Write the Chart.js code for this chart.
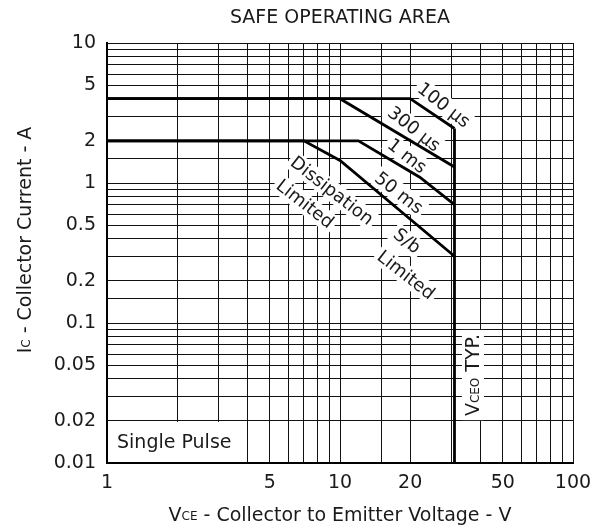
<!DOCTYPE html>
<html>
<head>
<meta charset="utf-8">
<script src="https://cdn.jsdelivr.net/npm/chart.js@4.4.1/dist/chart.umd.min.js"></script>
<style>
  html, body { margin: 0; padding: 0; background: #fff; }
  #wrap { width: 603px; height: 531px; }
</style>
</head>
<body>
<div id="wrap"><canvas id="soa"></canvas></div>
<script>
// Safe operating area curves (V, A)
var us100X = [1, 20, 31];
var us100Y = [4, 4, 2.45];
var us300X = [1, 10, 31];
var us300Y = [4, 4, 1.3];
var ms1X = [1, 12, 22, 31];
var ms1Y = [2, 2, 1.1, 0.7];
var ms50X = [1, 7, 10, 31];
var ms50Y = [2, 2, 1.45, 0.3];
var vceoX = [31, 31];
var vceoY = [2.45, 0.01];

var xTickLabels = [1, 5, 10, 20, 50, 100];
var yTickLabels = [10, 5, 2, 1, 0.5, 0.2, 0.1, 0.05, 0.02, 0.01];

// curve labels: text, x, y, angle (deg)
var curveLabels = [
    ['100 \u00b5s', 27.9, 3.6, 38],
    ['300 \u00b5s', 20.8, 2.43, 38],
    ['1 ms', 19.4, 1.56, 38],
    ['50 ms', 17.9, 0.85, 38],
    ['Dissipation', 9.24, 0.88, 38],
    ['Limited', 7.08, 0.71, 38],
    ['S/b', 19.4, 0.385, 38],
    ['Limited', 19.2, 0.22, 38]
];

var FONT = '"DejaVu Sans", sans-serif';
var INK = '#1a1a1a';
var FS = 19;

function pts(xs, ys) {
    return xs.map(function(x, i) { return {x: x, y: ys[i]}; });
}

function line(xs, ys) {
    return {
        data: pts(xs, ys),
        showLine: true,
        borderColor: '#000',
        borderWidth: 2.8,
        pointRadius: 0,
        fill: false,
        tension: 0
    };
}

// text with a subscript part: parts = [[text, size, dy], ...]
function measureParts(ctx, parts) {
    var w = 0;
    parts.forEach(function(p) {
        ctx.font = p[1] + 'px ' + FONT;
        w += ctx.measureText(p[0]).width;
    });
    return w;
}
function drawParts(ctx, parts, x, y) {
    var cx = x;
    parts.forEach(function(p) {
        ctx.font = p[1] + 'px ' + FONT;
        ctx.fillText(p[0], cx, y + (p[2] || 0));
        cx += ctx.measureText(p[0]).width;
    });
}

var annotations = {
    id: 'annotations',
    beforeDatasetsDraw: function(chart) {
        var ctx = chart.ctx;
        var xs = chart.scales.x, ys = chart.scales.y;
        var area = chart.chartArea;
        ctx.save();

        // Single Pulse box
        var bx = xs.getPixelForValue(4), by = ys.getPixelForValue(0.02);
        ctx.fillStyle = '#fff';
        ctx.fillRect(area.left + 1, by + 1, bx - area.left - 1.5, area.bottom - by - 2);
        ctx.fillStyle = INK;
        ctx.font = FS + 'px ' + FONT;
        ctx.textBaseline = 'middle';
        ctx.textAlign = 'left';
        ctx.fillText('Single Pulse', area.left + 10, (by + area.bottom) / 2 + 1);

        // rotated curve labels
        ctx.font = '18px ' + FONT;
        ctx.textAlign = 'center';
        curveLabels.forEach(function(l) {
            var px = xs.getPixelForValue(l[1]), py = ys.getPixelForValue(l[2]);
            var w = ctx.measureText(l[0]).width;
            ctx.save();
            ctx.translate(px, py);
            ctx.rotate(l[3] * Math.PI / 180);
            ctx.fillStyle = '#fff';
            ctx.fillRect(-w / 2 - 3, -10, w + 6, 20);
            ctx.fillStyle = INK;
            ctx.fillText(l[0], 0, 1);
            ctx.restore();
        });

        // VCEO TYP.
        var vx = xs.getPixelForValue(37.2), vy = ys.getPixelForValue(0.0425);
        var parts = [['V', FS, 0], ['CEO', 12, 2], [' TYP.', FS, 0]];
        var vw = measureParts(ctx, parts);
        ctx.save();
        ctx.translate(vx, vy);
        ctx.rotate(-Math.PI / 2);
        ctx.fillStyle = '#fff';
        ctx.fillRect(-vw / 2 - 4, -11, vw + 8, 22);
        ctx.fillStyle = INK;
        ctx.textAlign = 'left';
        drawParts(ctx, parts, -vw / 2, 1);
        ctx.restore();

        ctx.restore();
    },
    afterDraw: function(chart) {
        var ctx = chart.ctx;
        var area = chart.chartArea;
        ctx.save();
        ctx.fillStyle = INK;
        ctx.textBaseline = 'middle';
        ctx.textAlign = 'center';
        ctx.font = FS + 'px ' + FONT;
        ctx.fillText('SAFE OPERATING AREA', (area.left + area.right) / 2, 18);

        ctx.textAlign = 'left';
        var xParts = [['V', FS, 0], ['CE', 12, 1], [' - Collector to Emitter Voltage - V', FS, 0]];
        var xw = measureParts(ctx, xParts);
        drawParts(ctx, xParts, (area.left + area.right) / 2 - xw / 2, 516);

        var yParts = [['I', FS, 0], ['C', 12, 1], [' - Collector Current - A', FS, 0]];
        var yw = measureParts(ctx, yParts);
        ctx.translate(26, 240);
        ctx.rotate(-Math.PI / 2);
        drawParts(ctx, yParts, -yw / 2, 0);
        ctx.restore();
    }
};

new Chart(document.getElementById('soa'), {
    type: 'scatter',
    data: {
        datasets: [
            line(us100X, us100Y),
            line(us300X, us300Y),
            line(ms1X, ms1Y),
            line(ms50X, ms50Y),
            line(vceoX, vceoY)
        ]
    },
    options: {
        responsive: true,
        maintainAspectRatio: false,
        animation: false,
        layout: { padding: { top: 43, right: 30, left: 0, bottom: 0 } },
        plugins: {
            legend: { display: false },
            tooltip: { enabled: false }
        },
        scales: {
            x: {
                type: 'logarithmic',
                min: 1,
                max: 100,
                afterFit: function(s) { s.height = 68; },
                grid: { color: '#111', lineWidth: 1, drawTicks: false },
                border: { color: '#000', width: 2 },
                ticks: {
                    autoSkip: false,
                    maxRotation: 0,
                    padding: 9,
                    color: INK,
                    font: { family: FONT, size: FS },
                    callback: function(v) {
                        return xTickLabels.indexOf(v) >= 0 ? String(v) : '';
                    }
                }
            },
            y: {
                type: 'logarithmic',
                min: 0.01,
                max: 10,
                afterFit: function(s) { s.width = 107; },
                grid: { color: '#111', lineWidth: 1, drawTicks: false },
                border: { color: '#000', width: 2 },
                ticks: {
                    autoSkip: false,
                    padding: 11,
                    color: INK,
                    font: { family: FONT, size: FS },
                    callback: function(v) {
                        for (var i = 0; i < yTickLabels.length; i++) {
                            if (Math.abs(yTickLabels[i] - v) < 1e-9) return String(yTickLabels[i]);
                        }
                        return '';
                    }
                }
            }
        }
    },
    plugins: [annotations]
});
</script>
</body>
</html>
